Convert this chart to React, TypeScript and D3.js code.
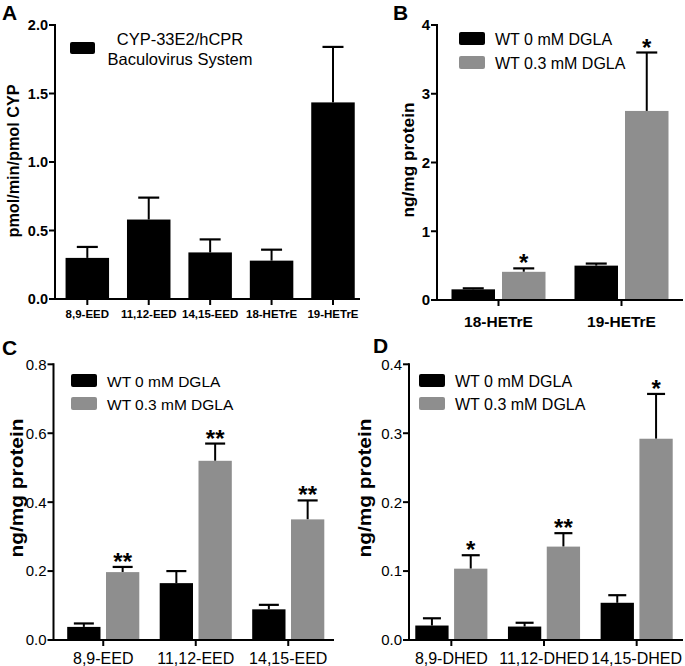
import React from "react";
import * as d3 from "d3";

const FONT = "'Liberation Sans', Arial, Helvetica, sans-serif";
const BLACK = "#000000";
const GRAY = "#8e8e8e";

// ---------- data ----------
const seriesNames = ["WT 0 mM DGLA", "WT 0.3 mM DGLA"];

// Panel A
const aCategories = ["8,9-EED", "11,12-EED", "14,15-EED", "18-HETrE", "19-HETrE"];
const aMeans = [0.3, 0.58, 0.34, 0.28, 1.435];
const aErrors = [0.08, 0.16, 0.095, 0.08, 0.405];
const aTicks = [0, 0.5, 1.0, 1.5, 2.0];
const aLegend = ["CYP-33E2/hCPR", "Baculovirus System"];
const aYLabel = "pmol/min/pmol CYP";

// Panel B
const bCategories = ["18-HETrE", "19-HETrE"];
const bControl = [0.155, 0.5];
const bControlErr = [0.015, 0.03];
const bDgla = [0.41, 2.75];
const bDglaErr = [0.05, 0.85];
const bSig = ["*", "*"];
const bTicks = [0, 1, 2, 3, 4];

// Panel C
const cCategories = ["8,9-EED", "11,12-EED", "14,15-EED"];
const cControl = [0.038, 0.165, 0.089];
const cControlErr = [0.01, 0.035, 0.013];
const cDgla = [0.197, 0.52, 0.35];
const cDglaErr = [0.015, 0.05, 0.055];
const cSig = ["**", "**", "**"];
const cTicks = [0, 0.2, 0.4, 0.6, 0.8];

// Panel D
const dCategories = ["8,9-DHED", "11,12-DHED", "14,15-DHED"];
const dControl = [0.021, 0.0195, 0.054];
const dControlErr = [0.0105, 0.0055, 0.011];
const dDgla = [0.1035, 0.1355, 0.292];
const dDglaErr = [0.0195, 0.0195, 0.065];
const dSig = ["*", "**", "*"];
const dTicks = [0, 0.1, 0.2, 0.3, 0.4];

const yLabelBCD = "ng/mg protein";

type Series = { values: number[]; errors: number[]; color: string; sig?: string[] };

type PanelCfg = {
  letter: string;
  letterX: number;
  letterY: number;
  categories: string[];
  series: Series[];
  yMax: number;
  ticks: number[];
  tickFmt: (v: number) => string;
  yTop: number;
  yBottom: number;
  axisX: number;
  axisEnd: number;
  band: [number, number];
  barW: number;
  gap: number;
  capW: number;
  yTickFont: number;
  yTickWeight: string;
  xTickFont: number;
  xTickWeight: string;
  xTickBaseline: number;
  yLabel: string;
  yLabelX: number;
  yLabelY: number;
  yLabelFont: number;
  yLabelLen: number;
  legend: React.ReactNode;
};

function Panel({ cfg }: { cfg: PanelCfg }) {
  const y = d3.scaleLinear().domain([0, cfg.yMax]).range([cfg.yBottom, cfg.yTop]);
  const x = d3.scaleBand<string>().domain(cfg.categories).range(cfg.band).padding(0);
  const n = cfg.series.length;
  const groupW = n * cfg.barW + (n - 1) * cfg.gap;
  const y0 = y(0);

  return (
    <g>
      <text x={cfg.letterX} y={cfg.letterY} fontFamily={FONT} fontWeight="bold" fontSize={21}>
        {cfg.letter}
      </text>
      {cfg.series.map((s, si) =>
        cfg.categories.map((c, ci) => {
          const cx = (x(c) as number) + x.bandwidth() / 2;
          const bx = cx - groupW / 2 + si * (cfg.barW + cfg.gap);
          const mid = bx + cfg.barW / 2;
          const top = y(s.values[ci]);
          const et = y(s.values[ci] + s.errors[ci]);
          return (
            <g key={`${si}-${ci}`}>
              <line x1={mid} x2={mid} y1={top} y2={et} stroke={BLACK} strokeWidth={2} />
              <line x1={mid - cfg.capW / 2} x2={mid + cfg.capW / 2} y1={et} y2={et} stroke={BLACK} strokeWidth={2.2} />
              <rect x={bx} y={top} width={cfg.barW} height={y0 - top} fill={s.color} />
              {s.sig && s.sig[ci] ? (
                <text
                  x={mid}
                  y={et + 3}
                  textAnchor="middle"
                  fontFamily={FONT}
                  fontWeight="bold"
                  fontSize={24}
                >
                  {s.sig[ci]}
                </text>
              ) : null}
            </g>
          );
        })
      )}
      <line x1={cfg.axisX} x2={cfg.axisX} y1={y(cfg.yMax) - 1} y2={y0 + 1} stroke={BLACK} strokeWidth={2} />
      {cfg.ticks.map((t) => (
        <g key={t}>
          <line x1={cfg.axisX - 6} x2={cfg.axisX} y1={y(t)} y2={y(t)} stroke={BLACK} strokeWidth={2} />
          <text
            x={cfg.axisX - 7}
            y={y(t)}
            dy="0.36em"
            textAnchor="end"
            fontFamily={FONT}
            fontWeight={cfg.yTickWeight}
            fontSize={cfg.yTickFont}
          >
            {cfg.tickFmt(t)}
          </text>
        </g>
      ))}
      <line x1={cfg.axisX - 1} x2={cfg.axisEnd} y1={y0} y2={y0} stroke={BLACK} strokeWidth={2} />
      {cfg.categories.map((c) => {
        const cx = (x(c) as number) + x.bandwidth() / 2;
        return (
          <g key={c}>
            <line x1={cx} x2={cx} y1={y0} y2={y0 + 6} stroke={BLACK} strokeWidth={2} />
            <text
              x={cx}
              y={cfg.xTickBaseline}
              textAnchor="middle"
              fontFamily={FONT}
              fontWeight={cfg.xTickWeight}
              fontSize={cfg.xTickFont}
            >
              {c}
            </text>
          </g>
        );
      })}
      <text
        transform={`translate(${cfg.yLabelX},${cfg.yLabelY}) rotate(-90)`}
        textAnchor="middle"
        fontFamily={FONT}
        fontWeight="bold"
        fontSize={cfg.yLabelFont}
        textLength={cfg.yLabelLen}
        lengthAdjust="spacingAndGlyphs"
      >
        {cfg.yLabel}
      </text>
      {cfg.legend}
    </g>
  );
}

function TwoLegend({ x, y1, y2, fontSize }: { x: number; y1: number; y2: number; fontSize: number }) {
  return (
    <g>
      <rect x={x} y={y1 - 13} width={26} height={13} rx={2} fill={BLACK} />
      <text x={x + 36} y={y1} fontFamily={FONT} fontSize={fontSize}>
        {seriesNames[0]}
      </text>
      <rect x={x} y={y2 - 13} width={26} height={13} rx={2} fill={GRAY} />
      <text x={x + 36} y={y2} fontFamily={FONT} fontSize={fontSize}>
        {seriesNames[1]}
      </text>
    </g>
  );
}

const f1 = d3.format(".1f");
const f0 = d3.format("d");

export default function App() {
  const panelA: PanelCfg = {
    letter: "A",
    letterX: 2,
    letterY: 20,
    categories: aCategories,
    series: [{ values: aMeans, errors: aErrors, color: BLACK }],
    yMax: 2,
    ticks: aTicks,
    tickFmt: f1,
    yTop: 25,
    yBottom: 299,
    axisX: 55,
    axisEnd: 360,
    band: [56.6, 363.7],
    barW: 43.5,
    gap: 0,
    capW: 21,
    yTickFont: 14.5,
    yTickWeight: "bold",
    xTickFont: 11.5,
    xTickWeight: "bold",
    xTickBaseline: 318,
    yLabel: aYLabel,
    yLabelX: 19,
    yLabelY: 161,
    yLabelFont: 16,
    yLabelLen: 153,
    legend: (
      <g>
        <rect x={70} y={42} width={25} height={12} rx={2} fill={BLACK} />
        <text x={180} y={45} textAnchor="middle" fontFamily={FONT} fontSize={16.5}>
          {aLegend[0]}
        </text>
        <text x={180} y={65} textAnchor="middle" fontFamily={FONT} fontSize={16.5}>
          {aLegend[1]}
        </text>
      </g>
    ),
  };

  const panelB: PanelCfg = {
    letter: "B",
    letterX: 393,
    letterY: 20,
    categories: bCategories,
    series: [
      { values: bControl, errors: bControlErr, color: BLACK },
      { values: bDgla, errors: bDglaErr, color: GRAY, sig: bSig },
    ],
    yMax: 4,
    ticks: bTicks,
    tickFmt: f0,
    yTop: 25,
    yBottom: 300,
    axisX: 437,
    axisEnd: 683,
    band: [437, 683],
    barW: 43.5,
    gap: 7,
    capW: 21,
    yTickFont: 15,
    yTickWeight: "bold",
    xTickFont: 15.5,
    xTickWeight: "bold",
    xTickBaseline: 327,
    yLabel: yLabelBCD,
    yLabelX: 414,
    yLabelY: 160,
    yLabelFont: 17,
    yLabelLen: 115,
    legend: <TwoLegend x={459} y1={45} y2={69} fontSize={16} />,
  };

  const panelC: PanelCfg = {
    letter: "C",
    letterX: 2,
    letterY: 355,
    categories: cCategories,
    series: [
      { values: cControl, errors: cControlErr, color: BLACK },
      { values: cDgla, errors: cDglaErr, color: GRAY, sig: cSig },
    ],
    yMax: 0.8,
    ticks: cTicks,
    tickFmt: f1,
    yTop: 364.3,
    yBottom: 640,
    axisX: 53.5,
    axisEnd: 334,
    band: [57, 334.5],
    barW: 33.3,
    gap: 5.5,
    capW: 20,
    yTickFont: 15,
    yTickWeight: "normal",
    xTickFont: 16,
    xTickWeight: "normal",
    xTickBaseline: 664,
    yLabel: yLabelBCD,
    yLabelX: 23,
    yLabelY: 488,
    yLabelFont: 18,
    yLabelLen: 139,
    legend: <TwoLegend x={71} y1={387} y2={410} fontSize={15.5} />,
  };

  const panelD: PanelCfg = {
    letter: "D",
    letterX: 373,
    letterY: 353,
    categories: dCategories,
    series: [
      { values: dControl, errors: dControlErr, color: BLACK },
      { values: dDgla, errors: dDglaErr, color: GRAY, sig: dSig },
    ],
    yMax: 0.4,
    ticks: dTicks,
    tickFmt: f1,
    yTop: 364.3,
    yBottom: 640,
    axisX: 409,
    axisEnd: 683,
    band: [405, 683],
    barW: 33.3,
    gap: 5.5,
    capW: 18,
    yTickFont: 15,
    yTickWeight: "normal",
    xTickFont: 16,
    xTickWeight: "normal",
    xTickBaseline: 664,
    yLabel: yLabelBCD,
    yLabelX: 371,
    yLabelY: 488,
    yLabelFont: 18,
    yLabelLen: 139,
    legend: <TwoLegend x={419} y1={387} y2={410} fontSize={16} />,
  };

  return (
    <svg
      width={685}
      height={666}
      viewBox="0 0 685 666"
      style={{ position: "absolute", left: 0, top: 0, background: "#ffffff" }}
    >
      <rect x={0} y={0} width={685} height={666} fill="#ffffff" />
      <Panel cfg={panelA} />
      <Panel cfg={panelB} />
      <Panel cfg={panelC} />
      <Panel cfg={panelD} />
    </svg>
  );
}
